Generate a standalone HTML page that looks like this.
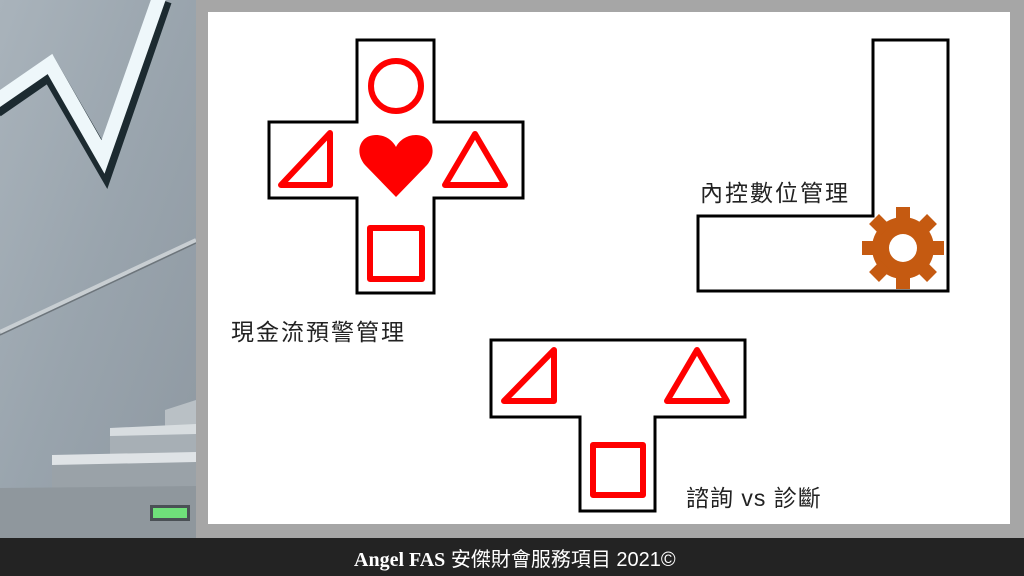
<!DOCTYPE html>
<html><head><meta charset="utf-8"><style>
html,body{margin:0;padding:0;width:1024px;height:576px;overflow:hidden;background:#a6a6a6;}
.t{position:absolute;font-family:"Liberation Sans","Noto Sans CJK TC",sans-serif;color:#222;font-size:23px;white-space:nowrap;letter-spacing:2px;}
</style></head><body>
<svg width="1024" height="576" style="position:absolute;left:0;top:0">
<defs>
<linearGradient id="wall" x1="0" y1="0" x2="1" y2="1">
<stop offset="0" stop-color="#a9b3bb"/><stop offset="0.5" stop-color="#99a4ad"/><stop offset="1" stop-color="#8e98a1"/>
</linearGradient>
</defs>
<rect x="0" y="0" width="196" height="538" fill="url(#wall)"/>
<polyline points="-5,108 50,70 105,165 162,0" fill="none" stroke="#1c2a30" stroke-width="20"/>
<polyline points="-5,102 50,64 103,157 160,-5" fill="none" stroke="#eef7fa" stroke-width="14"/>
<line x1="0" y1="332" x2="196" y2="240" stroke="#c8ced2" stroke-width="4"/>
<line x1="0" y1="335" x2="196" y2="243" stroke="#6d757b" stroke-width="1.5"/>
<polygon points="165,410 196,400 196,538 165,538" fill="#b9c0c5"/>
<polygon points="110,430 196,428 196,538 110,538" fill="#a7afb5"/>
<polygon points="110,428 196,424 196,434 110,436" fill="#d8dde0"/>
<polygon points="52,458 196,455 196,538 52,538" fill="#9aa2a8"/>
<polygon points="52,455 196,452 196,462 52,465" fill="#dfe3e6"/>
<polygon points="0,488 196,486 196,538 0,538" fill="#8f979d"/>
<rect x="150" y="505" width="40" height="16" fill="#4a5055"/>
<rect x="153" y="508" width="34" height="10" fill="#6fe07a"/>
<rect x="196" y="0" width="828" height="538" fill="#a6a6a6"/>
<rect x="208" y="12" width="802" height="512" fill="#fff"/>
<rect x="0" y="538" width="1024" height="38" fill="#232323"/>
<g fill="none" stroke="#000" stroke-width="3">
<polygon points="357,40 434,40 434,122 523,122 523,198 434,198 434,293 357,293 357,198 269,198 269,122 357,122"/>
<polygon points="873,40 948,40 948,291 698,291 698,216 873,216"/>
<polygon points="491,340 745,340 745,417 655,417 655,511 580,511 580,417 491,417"/>
</g>
<g fill="none" stroke="#f00" stroke-width="6" stroke-linejoin="round">
<circle cx="396" cy="86" r="25"/>
<polygon points="330,133 330,185 281,185"/>
<polygon points="475,134 505,185 445,185"/>
<rect x="370" y="228" width="52" height="51"/>
<polygon points="554,350 554,401 504,401"/>
<polygon points="697,350 727,401 667,401"/>
<rect x="593" y="445" width="50" height="50"/>
</g>
<path d="M396,197 L365,165 C354,152 360,135 376,135 C386,135 393,141 396,147 C399,141 406,135 416,135 C432,135 438,152 427,165 Z" fill="#f00"/>
<g transform="translate(903,248)" fill="#c55a11">
<circle r="31"/>
<rect x="-7" y="-41" width="14" height="16"/>
<rect x="-7" y="-41" width="14" height="16" transform="rotate(45)"/>
<rect x="-7" y="-41" width="14" height="16" transform="rotate(90)"/>
<rect x="-7" y="-41" width="14" height="16" transform="rotate(135)"/>
<rect x="-7" y="-41" width="14" height="16" transform="rotate(180)"/>
<rect x="-7" y="-41" width="14" height="16" transform="rotate(225)"/>
<rect x="-7" y="-41" width="14" height="16" transform="rotate(270)"/>
<rect x="-7" y="-41" width="14" height="16" transform="rotate(315)"/>
<circle r="14" fill="#fff"/>
</g>
</svg>
<div class="t" style="left:231px;top:313px">現金流預警管理</div>
<div class="t" style="left:700px;top:174px">內控數位管理</div>
<div class="t" style="left:686px;top:479px;letter-spacing:1px">諮詢 vs 診斷</div>
<div class="t" style="left:354px;top:543px;color:#fff;font-size:20px;letter-spacing:0"><b style="font-family:'Liberation Serif',serif;">Angel FAS</b> 安傑財會服務項目 2021©</div>
</body></html>
